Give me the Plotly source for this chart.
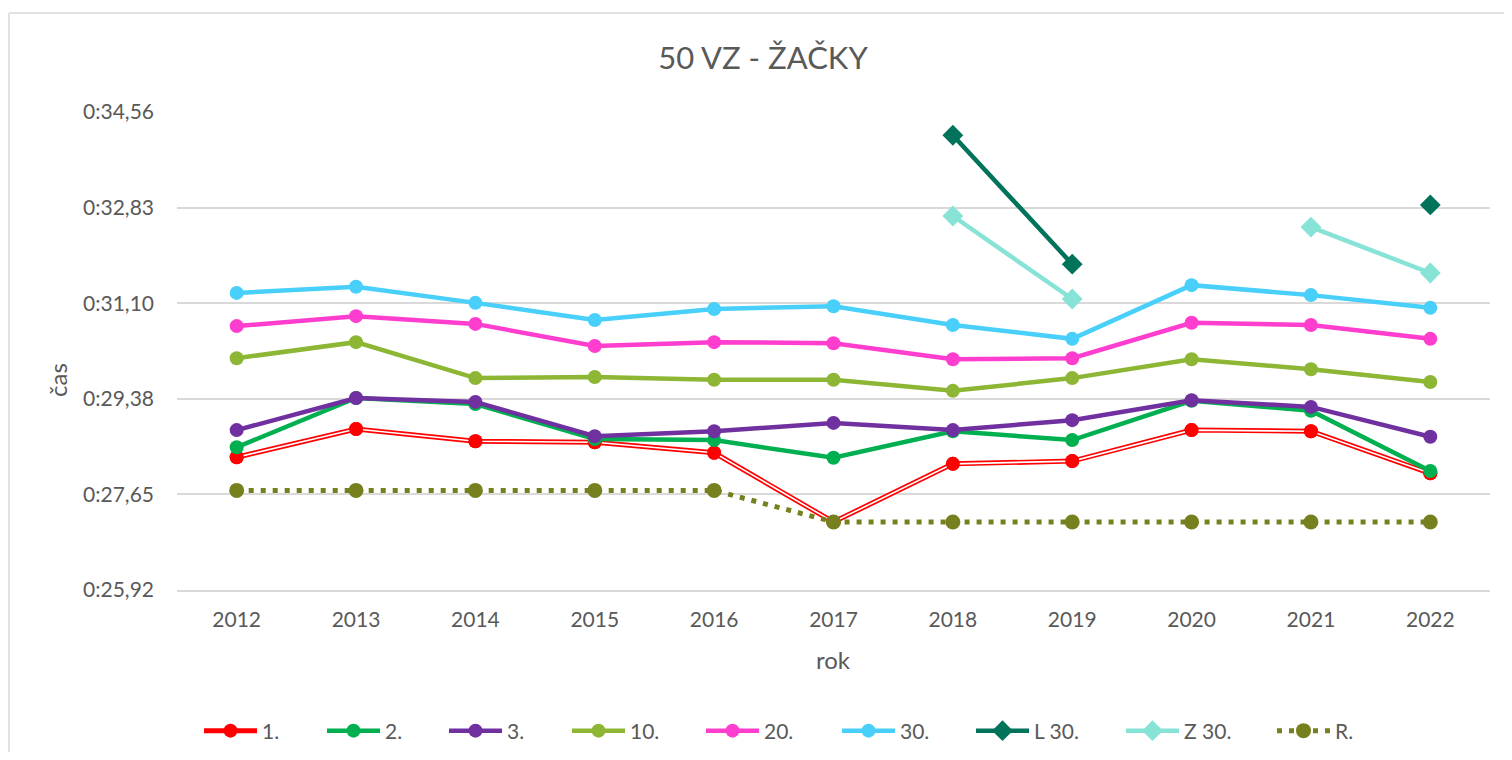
import plotly.graph_objects as go

years = ["2012", "2013", "2014", "2015", "2016", "2017", "2018", "2019", "2020", "2021", "2022"]

s1 = [28.32, 28.83, 28.61, 28.59, 28.40, 27.15, 28.20, 28.25, 28.81, 28.79, 28.03]
s2 = [28.50, 29.39, 29.28, 28.65, 28.63, 28.31, 28.79, 28.63, 29.34, 29.16, 28.07]
s3 = [28.81, 29.39, 29.32, 28.70, 28.79, 28.94, 28.81, 28.99, 29.35, 29.23, 28.69]
s10 = [30.11, 30.40, 29.75, 29.77, 29.72, 29.72, 29.52, 29.75, 30.09, 29.91, 29.68]
s20 = [30.69, 30.87, 30.73, 30.33, 30.40, 30.38, 30.09, 30.11, 30.75, 30.71, 30.46]
s30 = [31.29, 31.40, 31.11, 30.80, 31.00, 31.05, 30.71, 30.46, 31.43, 31.25, 31.02]
l30 = [None, None, None, None, None, None, 34.14, 31.81, None, None, 32.88]
z30 = [None, None, None, None, None, None, 32.68, 31.18, None, 32.48, 31.65]
rr = [27.72, 27.72, 27.72, 27.72, 27.72, 27.15, 27.15, 27.15, 27.15, 27.15, 27.15]

ytickvals = [25.92, 27.648, 29.376, 31.104, 32.832, 34.56]
yticktext = ["0:25,92", "0:27,65", "0:29,38", "0:31,10", "0:32,83", "0:34,56"]

FONT = "Lato"
GRAY = "#595959"

fig = go.Figure()

def add(name, y, color, lw, symbol="circle", width=4.5, size=14, dash="solid", legend=True):
    fig.add_trace(go.Scatter(
        x=years, y=y, name=name, mode="lines+markers",
        line=dict(color=color, width=width, dash=dash),
        marker=dict(color=color, size=size, symbol=symbol),
        connectgaps=False, showlegend=legend, legendwidth=lw,
    ))

add("1.", s1, "#FF0000", 55, width=5)
fig.add_trace(go.Scatter(x=years, y=s1, mode="lines", line=dict(color="white", width=1.6),
                         showlegend=False, hoverinfo="skip"))
fig.add_trace(go.Scatter(x=years, y=s1, mode="markers", marker=dict(color="#FF0000", size=14),
                         showlegend=False, hoverinfo="skip"))
add("2.", s2, "#00B050", 54)
add("3.", s3, "#7030A0", 55)
add("10.", s10, "#8DB635", 66)
add("20.", s20, "#FF3ECF", 68)
add("30.", s30, "#48CFFA", 66)
add("L 30.", l30, "#00735A", 82, symbol="diamond", size=16)
add("Z 30.", z30, "#86E3D6", 83, symbol="diamond", size=16)
add("R.", rr, "#76801F", 40, dash="5px,7px", width=5, size=15)

# page has an 8px body margin on every side: figure = window minus 16px
OFF = 8
W, H = 1512 - 2 * OFF, 760 - 2 * OFF
L, R, T, B = 177 - OFF, W - (1490 - OFF), 112 - OFF, H - (590 - OFF)
pw, ph = W - L - R, H - T - B

def px2x(px):
    return (px - OFF - L) / pw

def px2y(py):
    return (H - B - (py - OFF)) / ph

def cx(px):
    return (px - OFF) / W

def cy(py):
    return 1 - (py - OFF) / H

fig.update_layout(
    width=W, height=H,
    margin=dict(l=L, r=R, t=T, b=B),
    paper_bgcolor="white", plot_bgcolor="white",
    font=dict(family=FONT, color=GRAY, size=21),
    title=dict(text="50 VZ - ŽAČKY", x=cx(763), xref="container", xanchor="center",
               y=cy(58), yref="container", yanchor="middle",
               font=dict(size=31, color=GRAY, family=FONT)),
    showlegend=True,
    legend=dict(orientation="h", x=cx(199), xref="container", xanchor="left",
                y=cy(731), yref="container", yanchor="middle",
                font=dict(size=21, color=GRAY, family=FONT), itemwidth=53,
                traceorder="normal", bgcolor="rgba(0,0,0,0)"),
    xaxis=dict(type="category", range=[-0.5, 10.5], showgrid=False, showline=True,
               linecolor="#D9D9D9", linewidth=1.5, ticks="", ticklabelstandoff=10,
               tickfont=dict(size=21, color=GRAY), zeroline=False, automargin=False),
    yaxis=dict(range=[25.92, 34.56], tickvals=ytickvals, ticktext=yticktext,
               showgrid=True, gridcolor="#D9D9D9", gridwidth=1.5, zeroline=False,
               showline=False, ticks="", ticklabelstandoff=22, automargin=False,
               tickfont=dict(size=21, color=GRAY)),
    annotations=[
        dict(text="rok", x=0.5, xref="paper", y=px2y(659), yref="paper", showarrow=False,
             xanchor="center", yanchor="middle", font=dict(size=24, color=GRAY, family=FONT)),
        dict(text="čas", x=px2x(57), xref="paper", y=px2y(380), yref="paper", showarrow=False,
             textangle=-90, xanchor="center", yanchor="middle",
             font=dict(size=24, color=GRAY, family=FONT)),
    ],
    shapes=[
        dict(type="line", xref="paper", yref="paper", x0=px2x(9), x1=px2x(9), y0=px2y(13), y1=px2y(800),
             line=dict(color="#D9D9D9", width=1.5)),
        dict(type="line", xref="paper", yref="paper", x0=px2x(9), x1=px2x(1530), y0=px2y(13), y1=px2y(13),
             line=dict(color="#D9D9D9", width=1.5)),
    ],
)

fig.write_html("out.html")
